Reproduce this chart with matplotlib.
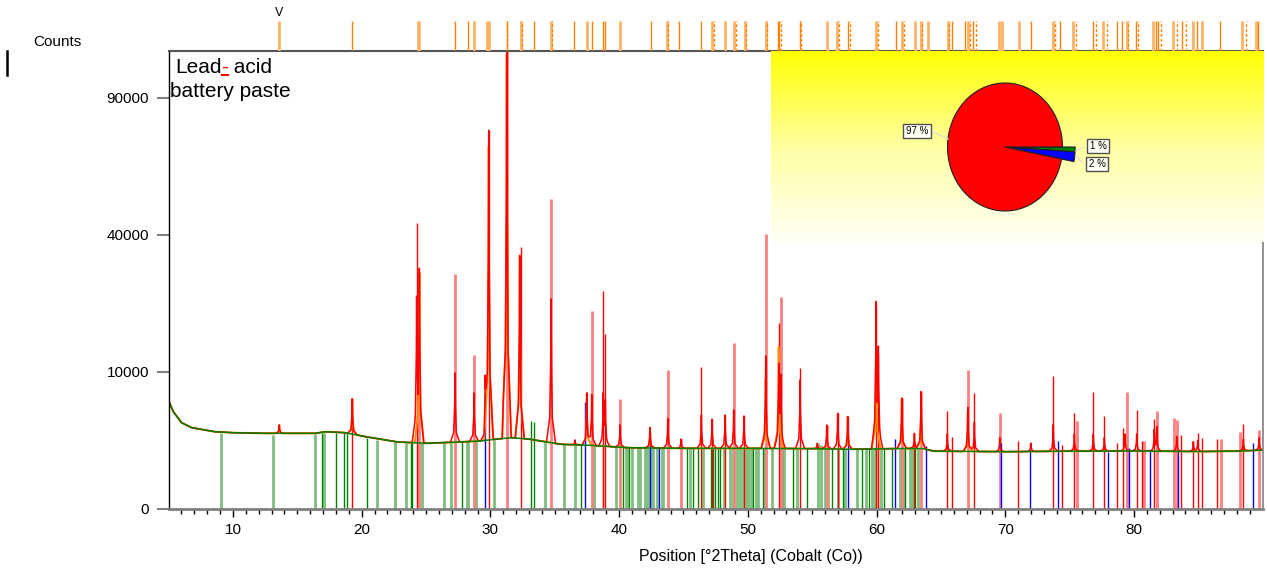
import numpy as np
import matplotlib
matplotlib.use("Agg")
import matplotlib.pyplot as plt
from matplotlib.colors import LinearSegmentedColormap
from matplotlib.lines import Line2D

plt.rcParams['font.family'] = ['Liberation Sans', 'DejaVu Sans']

# ---- data ------------------------------------------------------------------
# background (green line), 2theta / counts
bg_x = [5.0, 5.37, 6.0, 6.8, 8.6, 10.0, 12.5, 16.4, 17.2, 18.7, 20.3, 22.8, 25.0, 27.0,
        29.0, 31.0, 31.65, 33.0, 34.0, 35.5, 38.0, 40.7, 45.0, 50.0, 55.0, 58.0, 62.0,
        63.5, 64.5, 70.0, 75.0, 80.0, 85.0, 88.0, 90.0]
bg_y = [6250, 5040, 3970, 3520, 3180, 3100, 3050, 3050, 3180, 3100, 2785, 2390, 2300, 2370,
        2450, 2650, 2710, 2600, 2450, 2230, 2150, 2000, 1960, 1960, 1940, 1900, 1950,
        1950, 1780, 1750, 1780, 1790, 1760, 1780, 1850]

# observed profile peaks (red line)
obs_pos = [13.6, 19.27, 24.27, 24.48, 27.25, 28.73, 29.6, 29.87, 31.27, 32.28, 34.71, 36.57,
           37.49, 37.87, 38.77, 38.93, 40.07, 42.4, 43.78, 44.81, 46.39, 47.22, 48.23, 48.9,
           49.7, 51.39, 52.4, 52.56, 54.06, 55.4, 56.13, 56.98, 57.76, 59.96, 60.14, 61.96,
           62.94, 63.46, 65.5, 67.09, 67.6, 69.57, 72.0, 73.73, 75.37, 76.84, 77.7, 79.3,
           80.21, 81.58, 81.77, 83.32, 84.61, 84.95, 88.5, 89.72]
obs_h = [3760, 6450, 22600, 29750, 9860, 7170, 7170, 76240, 115000, 34190, 23500, 2540,
         7170, 7000, 6925, 6000, 3760, 3520, 4380, 2610, 4710, 4290, 4710, 5220,
         4610, 12470, 10790, 9000, 8870, 2300, 3760, 4880, 4540, 22170, 12750, 6530,
         3050, 7330, 3000, 5500, 4000, 2700, 2300, 3800, 3000, 3000, 2700, 3000,
         3000, 3300, 3520, 2800, 2400, 2500, 2600, 2700]

# calculated profile peaks (orange line)
calc_pos = [13.6, 19.27, 24.48, 29.87, 31.27, 32.28, 37.49, 42.4, 51.39, 52.4, 57.76,
            59.96, 61.96, 63.46, 67.09]
calc_h = [3760, 6450, 29750, 70000, 110000, 34190, 7170, 3520, 9000, 14000, 4540,
          15000, 6530, 6000, 5000]

# phase 1 reference sticks (red)
red_pos = [19.27, 24.27, 29.87, 32.38, 38.77, 38.93, 46.39, 47.22, 48.23, 49.7, 52.4,
           54.06, 56.98, 59.96, 60.14, 62.94, 65.5, 65.87, 67.6, 71.02, 73.73, 74.43,
           75.37, 76.84, 77.7, 78.7, 79.17, 80.21, 80.65, 81.58, 83.66, 84.61, 84.95,
           85.31, 86.43, 88.5]
red_h = [6450, 43480, 76240, 36660, 25390, 16260, 10790, 4290, 4710, 4610, 18370,
         10550, 4880, 22170, 12750, 3050, 5150, 2760, 7130, 2460, 9470, 2180,
         4880, 7260, 4610, 2320, 3470, 5220, 2480, 4310, 2920, 2480, 3050,
         2660, 2610, 3850]
red_light_pos = [24.48, 27.25, 28.73, 31.27, 34.71, 37.87, 40.07, 43.78, 44.81, 48.9,
                 51.39, 52.56, 56.13, 61.96, 63.46, 67.09, 69.57, 75.55, 79.43, 80.8,
                 81.77, 83.14, 83.32, 86.77, 88.24, 89.72]
red_light_h = [29750, 29420, 12640, 115000, 51100, 20890, 6450, 10300, 2610, 14620,
               40290, 23880, 3760, 6530, 7330, 10300, 4880, 4125, 7260, 2480,
               5120, 4380, 4220, 2610, 3180, 3330]

# phase 2 reference sticks (blue)
blue_pos = [29.6, 37.38, 42.4, 43.12, 57.76, 61.44, 63.87, 69.65, 71.95, 74.12, 77.96,
            79.6, 81.25, 83.45, 89.23]
blue_h = [7170, 6130, 3180, 2070, 4540, 2610, 2140, 2340, 2340, 2460, 1750,
          1960, 1850, 1790, 2300]

# phase 3 reference sticks (green)
green_pos = [16.92, 18.03, 18.65, 18.88, 20.41, 23.81, 23.89, 27.77, 33.16, 33.39, 37.04,
             38.77, 40.33, 40.77, 45.25, 45.77, 46.11, 47.14, 47.32, 47.45, 47.66, 47.84,
             50.43, 51.20, 52.63, 53.54, 54.58, 56.52, 57.42, 58.90, 59.42, 60.14, 60.61,
             61.18, 62.21, 62.99]
green_h = [3050, 3100, 3050, 3050, 2700, 2300, 2300, 2400, 4125, 4000, 2200,
           2150, 2050, 2000, 1960, 1960, 1960, 1960, 1960, 1960, 1960, 1960,
           1960, 1960, 1960, 1960, 1950, 1950, 1940, 1920, 1930, 1950, 1950,
           1950, 1950, 1950]
green_light_pos = [9.05, 13.09, 16.40, 17.10, 21.17, 22.56, 22.59, 23.42, 24.71, 26.40,
                   26.92, 28.16, 28.24, 28.88, 30.28, 34.25, 35.72, 36.58, 38.08, 39.76,
                   40.54, 40.59, 40.98, 41.49, 41.62, 42.01, 42.14, 42.27, 42.53, 42.66,
                   42.92, 43.31, 43.44, 45.51, 46.54, 48.17, 48.62, 48.87, 49.14, 49.39,
                   49.65, 49.84, 50.04, 50.25, 50.64, 50.77, 51.34, 51.86, 52.84, 53.80,
                   55.43, 55.69, 56.00, 56.25, 57.03, 57.55, 58.46, 59.16, 59.63, 59.88,
                   60.35, 61.83, 61.96, 62.08, 62.60, 62.78, 63.20]
green_light_h = [3050, 2920, 2990, 3100, 2540, 2370, 2350, 2300, 2300, 2350,
                 2380, 2400, 2400, 2450, 2550, 2450, 2250, 2250, 2150, 2050,
                 2000, 2000, 2000, 1980, 1980, 1980, 1980, 1980, 1980, 1980,
                 1970, 1970, 1970, 1960, 1960, 1960, 1960, 1960, 1960, 1960,
                 1960, 1960, 1960, 1960, 1960, 1960, 1960, 1960, 1960, 1960,
                 2340, 2200, 2100, 1950, 1940, 1940, 1920, 1930, 1940, 1950,
                 1950, 1950, 1950, 1950, 1950, 1950, 1950]

# reference lines in the strip above the plot
strip_dark = [19.27, 27.25, 28.26, 31.27, 33.39, 36.52, 37.87, 38.77, 38.93, 42.46, 44.68,
              46.39, 52.32, 52.45, 54.08, 57.81, 61.51, 65.89, 66.90, 67.52, 72.03, 74.28,
              76.84, 78.71, 79.10, 80.18, 81.71, 81.89, 83.76, 84.88, 86.71, 89.66]
strip_light = [13.55, 24.35, 24.48, 28.73, 29.71, 29.87, 32.36, 34.71, 37.48, 40.07, 43.70,
               47.24, 48.23, 48.93, 49.78, 51.39, 56.13, 56.95, 59.96, 61.96, 62.99, 63.43,
               63.98, 65.53, 67.11, 69.49, 69.72, 71.07, 73.74, 75.24, 77.62, 79.44, 81.46,
               83.06, 84.57, 85.26, 88.37, 89.46]
strip_dashed = [31.27, 32.48, 34.81, 43.83, 47.35, 49.06, 49.86, 51.52, 52.58, 54.13, 57.06,
                57.94, 60.12, 62.14, 63.56, 65.66, 67.26, 67.73, 73.87, 75.52, 77.03, 77.88,
                79.56, 80.34, 82.08, 83.32, 84.02, 88.68]

# phase fractions (pie)
phase_pct = [1, 2, 97]
phase_colors = ['#008000', '#0000ff', '#ff0000']

x_ticks = [10, 20, 30, 40, 50, 60, 70, 80]
y_ticks = [0, 10000, 40000, 90000]


def profile(px, ph):
    # peak shape: sharp tip with a wider foot, sitting on the background
    offs = np.array([-0.35, -0.1, -0.025, 0.0, 0.025, 0.1, 0.35])
    frac = np.array([0.0, 0.1, 0.45, 1.0, 0.45, 0.1, 0.0])
    xs = set(bg_x)
    for p in px:
        xs.update(p + offs)
    xs = np.array(sorted(xs))
    base = np.interp(xs, bg_x, bg_y)
    ys = base.copy()
    for p, h in zip(px, ph):
        b = np.interp(p, bg_x, bg_y)
        ys += np.interp(xs, p + offs, frac * (h - b), left=0, right=0)
    return xs, ys


W, H = 1267, 571
fig = plt.figure(figsize=(W / 100, H / 100), dpi=100)
ax = fig.add_axes([168.6 / W, 1 - 509 / H, (1262.7 - 168.6) / W, (509 - 51) / H])
ax.set_yscale('function', functions=(lambda y: np.sqrt(np.clip(y, 0, None)), np.square))

ax.vlines(green_light_pos, 0, green_light_h, colors='#7fbf7f', lw=2)
ax.vlines(green_pos, 0, green_h, colors='#008000', lw=1)
ax.vlines(red_light_pos, 0, red_light_h, colors='#ff8080', lw=2)
ax.vlines(red_pos, 0, red_h, colors='#ff0000', lw=1)
ax.vlines(blue_pos, 0, blue_h, colors='#0000ff', lw=1)

cx, cy = profile(calc_pos, calc_h)
ax.plot(cx, cy, color='#ff8c00', lw=1.4)
ox, oy = profile(obs_pos, obs_h)
ax.plot(ox, oy, color='#ff0000', lw=1.1)
ax.plot(bg_x, bg_y, color='#008000', lw=1.1)

ax.set_xlim(5, 90)
ax.set_ylim(0, 111700)
ax.set_xticks(x_ticks)
ax.set_xticks(np.arange(6, 90, 1), minor=True)
ax.set_yticks(y_ticks)
ax.set_yticklabels([str(v) for v in y_ticks])
ax.yaxis.set_minor_locator(matplotlib.ticker.NullLocator())
ax.tick_params(axis='x', which='major', length=6, width=1, color='black', labelsize=11, pad=4)
ax.tick_params(axis='x', which='minor', length=3.5, width=1, color='black')
ax.tick_params(axis='y', length=9, width=1.5, color='#808080', labelsize=11, pad=5)
ax.spines['left'].set_color('black')
ax.spines['left'].set_linewidth(1)
ax.spines['bottom'].set_color('#808080')
ax.spines['bottom'].set_linewidth(2)
ax.spines['top'].set_color('#555555')
ax.spines['top'].set_linewidth(1.5)
ax.spines['right'].set_color('#808080')
ax.spines['right'].set_linewidth(1.2)
ax.set_xlabel('Position [°2Theta] (Cobalt (Co))', fontsize=11.5)
ax.xaxis.set_label_coords((751 - 168.6) / (1262.7 - 168.6), -(557 - 509) / (509 - 51))
ax.xaxis.label.set_va('center')

# reference strip above the axes
strip = fig.add_axes([168.6 / W, 1 - 51 / H, (1262.7 - 168.6) / W, 30 / H], sharex=ax)
strip.set_ylim(0, 1)
strip.vlines(strip_light, 0, 1, colors='#ffb266', lw=2)
strip.vlines(strip_dark, 0, 1, colors='#ff8000', lw=1)
strip.vlines(strip_dashed, 0, 1, colors='#ff8000', lw=1, linestyles=(0, (2, 1.5)))
strip.axis('off')
strip.text(strip_light[0], 1.05, 'V', ha='center', va='bottom', fontsize=9)

# phase fraction inset: yellow gradient + pie
gax = fig.add_axes([771 / W, 1 - 242 / H, (1263 - 771) / W, (242 - 51) / H])
cmap = LinearSegmentedColormap.from_list('yw', ['#ffff00', '#ffffa0', '#fffff8'])
gax.imshow(np.linspace(0, 1, 256)[:, None], aspect='auto', cmap=cmap, extent=[0, 1, 0, 1])
gax.axis('off')

pax = fig.add_axes([(1005 - 57.5) / W, 1 - (147 + 64) / H, 115 / W, 128 / H])
wedges, _ = pax.pie(phase_pct, colors=phase_colors, startangle=0, counterclock=False,
                    wedgeprops=dict(edgecolor='#202020', linewidth=0.8))
for w, v in zip(wedges, phase_pct):
    if v < 50:
        w.set_radius(1.22)
    w.set_clip_on(False)
pax.set_xlim(-1, 1)
pax.set_ylim(-1, 1)
pax.set_aspect('auto')

lbl_pos = {97: (917, 131), 1: (1098, 146), 2: (1097, 164)}
for v in phase_pct:
    lx, ly = lbl_pos[v]
    fig.text(lx / W, 1 - ly / H, f'{v} %', ha='center', va='center', fontsize=7,
             bbox=dict(boxstyle='square,pad=0.25', fc='#fffff4', ec='#505050', lw=1))
for (x0, y0, x1, y1) in [(931, 131, 948, 139), (1084, 147, 1076, 151), (1083, 163, 1076, 156)]:
    fig.add_artist(Line2D([x0 / W, x1 / W], [1 - y0 / H, 1 - y1 / H], color='#e0e0d0', lw=1))

# labels outside the axes
fig.text(57 / W, 1 - 42 / H, 'Counts', ha='center', va='center', fontsize=11)
fig.add_artist(Line2D([7 / W, 7 / W], [1 - 51 / H, 1 - 75 / H], color='black', lw=1.8))

# sample title with the red spell-check hyphen
fs = 15
t1 = fig.text(175 / W, 1 - 73 / H, 'Lead', fontsize=fs, va='baseline')
fig.canvas.draw()
r = fig.canvas.get_renderer()
b1 = t1.get_window_extent(r)
t2 = fig.text(b1.x1 / W, 1 - 73 / H, '-', fontsize=fs, va='baseline', color='red')
b2 = t2.get_window_extent(r)
fig.text(b2.x1 / W, 1 - 73 / H, ' acid', fontsize=fs, va='baseline')
fig.add_artist(Line2D([b2.x0 / W, b2.x1 / W], [1 - 75 / H, 1 - 75 / H], color='red', lw=1.5))
fig.text(170 / W, 1 - 97 / H, 'battery paste', fontsize=fs, va='baseline')

fig.savefig('out.png', dpi=100)
